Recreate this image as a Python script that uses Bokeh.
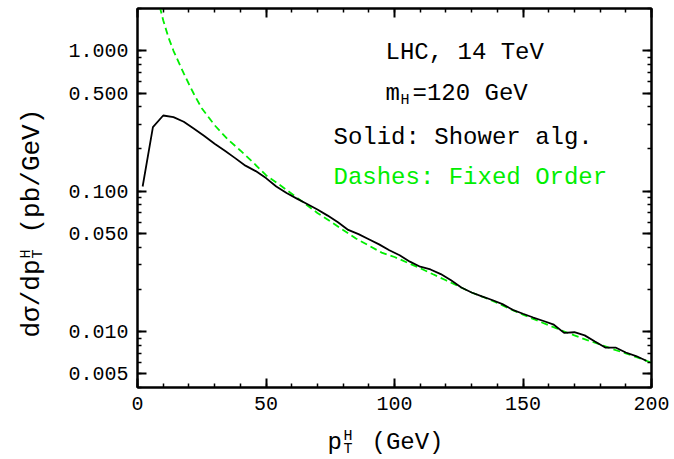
import math
from bokeh.plotting import figure
from bokeh.layouts import row, column
from bokeh.models import (Label, LinearAxis, LogAxis, FixedTicker,
                          NumeralTickFormatter, CustomJSTickFormatter, Range1d)
from bokeh.embed import file_html
from bokeh.resources import INLINE

# ---------------- data ----------------
shower_pt = [2, 6, 10, 14, 18, 22, 26, 30, 34, 38, 42, 46, 50, 54, 58, 62, 66,
             70, 74, 78, 82, 86, 90, 94, 98, 102, 106, 110, 114, 118, 122, 126,
             130, 134, 138, 142, 146, 150, 154, 158, 162, 166, 170, 174, 178,
             182, 186, 190, 194, 198]
shower_val = [0.108, 0.286, 0.346, 0.337, 0.312, 0.278, 0.247, 0.218, 0.194,
              0.172, 0.152, 0.139, 0.124, 0.108, 0.097, 0.0885, 0.081, 0.074,
              0.067, 0.060, 0.053, 0.0495, 0.0455, 0.0418, 0.038, 0.035,
              0.0315, 0.029, 0.0277, 0.0257, 0.0232, 0.0206, 0.0190, 0.0178,
              0.0168, 0.0157, 0.0143, 0.0134, 0.0126, 0.0119, 0.0112, 0.0098,
              0.0099, 0.0094, 0.0085, 0.0077, 0.0077, 0.0071, 0.0067, 0.0062]

fixed_pt = [6, 8, 10, 12, 14, 16, 18, 20, 22, 25, 30, 35, 40, 45, 50, 55, 60,
            65, 70, 75, 80, 85, 90, 95, 100, 105, 110, 115, 120, 125, 130, 135,
            140, 145, 150, 155, 160, 165, 170, 175, 180, 185, 190, 195, 200]
fixed_val = [3.5, 2.3, 1.65, 1.25, 1.0, 0.83, 0.69, 0.58, 0.49, 0.39, 0.295,
             0.235, 0.195, 0.16, 0.13, 0.112, 0.096, 0.082, 0.070, 0.061,
             0.053, 0.046, 0.041, 0.0365, 0.034, 0.031, 0.0283, 0.0256,
             0.0232, 0.021, 0.019, 0.0175, 0.016, 0.0145, 0.0132, 0.0121,
             0.0111, 0.0102, 0.0094, 0.0087, 0.0081, 0.0075, 0.0070, 0.0065,
             0.0060]

x_major = [0, 50, 100, 150, 200]
x_minor = [0, 10, 20, 30, 40, 50, 60, 70, 80, 90, 100, 110, 120, 130, 140,
           150, 160, 170, 180, 190, 200]
y_major = [0.005, 0.01, 0.05, 0.1, 0.5, 1.0]
y_minor = [0.004, 0.005, 0.006, 0.007, 0.008, 0.009, 0.01, 0.02, 0.03, 0.04,
           0.05, 0.06, 0.07, 0.08, 0.09, 0.1, 0.2, 0.3, 0.4, 0.5, 0.6, 0.7,
           0.8, 0.9, 1.0, 2.0]

FONT = "Liberation Mono"
GREEN = "#00ee00"

# ---------------- main plot ----------------
p = figure(width=624, height=420, x_range=Range1d(0, 200),
           y_range=Range1d(0.004, 2.0), y_axis_type="log",
           output_backend="svg", toolbar_location=None,
           min_border_left=87, min_border_right=23, min_border_top=8,
           min_border_bottom=33)
p.grid.visible = False
p.outline_line_color = "black"
p.outline_line_width = 2


def style(ax, show_labels):
    ax.axis_line_color = "black"
    ax.axis_line_width = 2
    ax.major_tick_in = 9
    ax.major_tick_out = 0
    ax.minor_tick_in = 4
    ax.minor_tick_out = 0
    ax.major_tick_line_width = 2
    ax.minor_tick_line_width = 1.5
    ax.major_tick_line_color = "black"
    ax.minor_tick_line_color = "black"
    if show_labels:
        ax.major_label_text_font = FONT
        ax.major_label_text_font_size = "20px"
        ax.major_label_text_color = "black"
        ax.major_label_standoff = 9
    else:
        ax.formatter = CustomJSTickFormatter(code="return ''")
        ax.major_label_standoff = 0


bx = p.xaxis[0]
bx.ticker = FixedTicker(ticks=x_major, minor_ticks=x_minor)
style(bx, True)
ly = p.yaxis[0]
ly.ticker = FixedTicker(ticks=y_major, minor_ticks=y_minor)
ly.formatter = NumeralTickFormatter(format="0.000")
style(ly, True)

tx = LinearAxis(ticker=FixedTicker(ticks=x_major, minor_ticks=x_minor))
style(tx, False)
p.add_layout(tx, "above")
ry = LogAxis(ticker=FixedTicker(ticks=y_major, minor_ticks=y_minor))
style(ry, False)
p.add_layout(ry, "right")

p.line(fixed_pt, fixed_val, line_color=GREEN, line_width=1.8, line_dash="7 4")
p.line(shower_pt, shower_val, line_color="black", line_width=1.8)


def lab(fig, x, y, text, size, color="black", angle=0.0):
    fig.add_layout(Label(x=x, y=y, x_units="screen", y_units="screen",
                         text=text, text_font=FONT, text_font_size=size,
                         text_color=color, text_align="left",
                         text_baseline="middle", angle=angle))


lab(p, 248, 335, "LHC, 14 TeV", "24px")
lab(p, 248, 294, "m", "24px")
lab(p, 263, 287, "H", "15px")
lab(p, 275, 294, "=120 GeV", "24px")
lab(p, 196, 250, "Solid: Shower alg.", "24px")
lab(p, 196, 210, "Dashes: Fixed Order", "24px", color=GREEN)


# ---------------- helper panels for the axis titles ----------------
def blank(w, h):
    f = figure(width=w, height=h, x_range=Range1d(0, w), y_range=Range1d(0, h),
               output_backend="svg", toolbar_location=None,
               x_axis_location=None, y_axis_location=None, min_border=0)
    f.grid.visible = False
    f.outline_line_color = None
    return f


yfig = blank(50, 459)
ang = math.pi / 2
lab(yfig, 31, 122, "d\u03c3/dp", "26px", angle=ang)
lab(yfig, 26, 201, "H", "15px", angle=ang)
lab(yfig, 38, 201, "T", "15px", angle=ang)
lab(yfig, 31, 226, "(pb/GeV)", "26px", angle=ang)

# (its frame is aligned with the main frame, so x is measured from page x 137)
xfig = blank(624, 39)
lab(xfig, 190, 17, "p", "24px")
lab(xfig, 206, 23, "H", "15px")
lab(xfig, 206, 10, "T", "15px")
lab(xfig, 234, 17, "(GeV)", "24px")

layout = row(yfig, column(p, xfig, spacing=0), spacing=0)

open("out.html", "w").write(file_html(layout, INLINE))
